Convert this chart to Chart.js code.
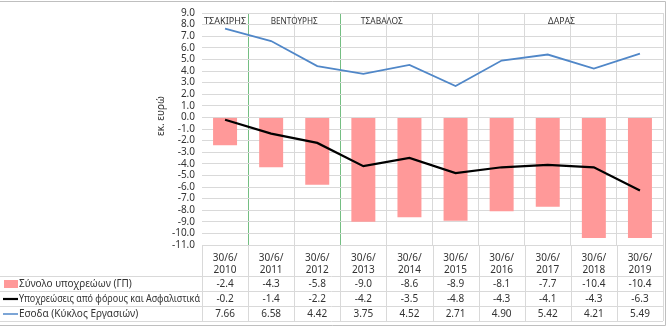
<!DOCTYPE html>
<html>
<head>
<meta charset="utf-8">
<script src="https://cdn.jsdelivr.net/npm/chart.js@4/dist/chart.umd.min.js"></script>
<style>
  html, body { margin: 0; padding: 0; background: #fff; }
  #wrap { width: 667px; height: 328px; }
</style>
</head>
<body>
<div id="wrap"><canvas id="chart" width="667" height="328"></canvas></div>
<script>
// data (Excel chart with data table)
const years = ['2010', '2011', '2012', '2013', '2014', '2015', '2016', '2017', '2018', '2019'];
const datePrefix = '30/6/';
const totalLiabilities = [-2.4, -4.3, -5.8, -9.0, -8.6, -8.9, -8.1, -7.7, -10.4, -10.4];
const taxLiabilities = [-0.2, -1.4, -2.2, -4.2, -3.5, -4.8, -4.3, -4.1, -4.3, -6.3];
const revenue = [7.66, 6.58, 4.42, 3.75, 4.52, 2.71, 4.90, 5.42, 4.21, 5.49];
const seriesNames = ['Σύνολο υποχρεώων (ΓΠ)', 'Υποχρεώσεις από φόρους και Ασφαλιστικά', 'Εσοδα (Κύκλος Εργασιών)'];
const yMin = -11, yMax = 9, yStep = 1;
const yTitle = 'εκ. ευρώ';
const managers = ['ΤΣΑΚΙΡΗΣ', 'ΒΕΝΤΟΥΡΗΣ', 'ΤΣΑΒΑΛΟΣ', 'ΔΑΡΑΣ'];

const PINK = '#FF9999';
const BLUE = '#5087C8';
const GRID = '#D9D9D9';
const GREEN = '#74BE82';
const TEXT = '#333333';
const FONT = "'Noto Sans', sans-serif";

// text squeezed horizontally when wider than maxW (Calibri is narrower than anything installed)
function fitText(ctx, str, x, y, maxW) {
    const w = ctx.measureText(str).width;
    if (w <= maxW) { ctx.fillText(str, x, y); return; }
    ctx.save();
    ctx.translate(x, y);
    ctx.scale(maxW / w, 1);
    ctx.fillText(str, 0, 0);
    ctx.restore();
}

// draws the person labels, axis title and the data table under the plot
const tablePlugin = {
    id: 'dataTable',
    afterDraw(chart) {
        const { ctx, chartArea: a, scales: { x } } = chart;
        const n = years.length;
        const colW = (a.right - a.left) / n;
        const headTop = a.bottom, headBottom = a.bottom + 31, rowH = 15;
        const rows = [totalLiabilities, taxLiabilities, revenue];
        const digits = [1, 1, 2];

        ctx.save();
        ctx.lineWidth = 1;
        ctx.strokeStyle = GRID;

        // horizontal table lines
        ctx.beginPath();
        ctx.moveTo(a.left, headTop + 0.5); ctx.lineTo(a.right, headTop + 0.5);
        for (let r = 0; r <= 3; r++) {
            const y = Math.round(headBottom + r * rowH) + 0.5;
            ctx.moveTo(0, y); ctx.lineTo(a.right, y);
        }
        // vertical table lines
        for (let i = 0; i <= n; i++) {
            const xx = Math.round(a.left + i * colW) + 0.5;
            ctx.moveTo(xx, headTop); ctx.lineTo(xx, headBottom + 3 * rowH);
        }
        ctx.stroke();

        // header: dates
        ctx.fillStyle = TEXT;
        ctx.font = '10px ' + FONT;
        ctx.textAlign = 'center';
        ctx.textBaseline = 'middle';
        years.forEach((yr, i) => {
            const cx = x.getPixelForValue(i);
            ctx.fillText(datePrefix, cx, headTop + 13);
            ctx.fillText(yr, cx, headTop + 25);
        });

        // values
        rows.forEach((vals, r) => {
            const cy = headBottom + r * rowH + rowH / 2 + 0.5;
            vals.forEach((v, i) => ctx.fillText(v.toFixed(digits[r]), x.getPixelForValue(i), cy));
        });

        // legend keys + names
        ctx.textAlign = 'left';
        seriesNames.forEach((name, r) => {
            const cy = headBottom + r * rowH + rowH / 2 + 0.5;
            if (r === 0) {
                ctx.fillStyle = PINK;
                ctx.fillRect(4, cy - 4, 14, 8);
            } else {
                ctx.strokeStyle = r === 1 ? '#000' : BLUE;
                ctx.lineWidth = r === 1 ? 2.2 : 1.5;
                ctx.beginPath(); ctx.moveTo(3, cy); ctx.lineTo(18, cy); ctx.stroke();
            }
            ctx.fillStyle = TEXT;
            fitText(ctx, name, 19, cy, 181);
        });

        // manager labels at top of plot
        ctx.textAlign = 'center';
        ctx.font = '9.5px ' + FONT;
        const anchors = [0, 1.5, 3.4, 7.3];
        managers.forEach((m, i) => {
            fitText(ctx, m, a.left + (anchors[i] + 0.5) * colW, a.top + 8, 42 + (m.length - 8) * 5);
        });

        // y axis title
        ctx.font = '10px ' + FONT;
        ctx.save();
        ctx.translate(161, 116);
        ctx.rotate(-Math.PI / 2);
        ctx.fillText(yTitle, 0, 0);
        ctx.restore();

        // outer frame
        ctx.strokeStyle = '#BFBFBF';
        ctx.lineWidth = 1;
        ctx.beginPath();
        ctx.moveTo(0, 1.5); ctx.lineTo(665.5, 1.5); ctx.lineTo(665.5, 325.5); ctx.lineTo(0, 325.5);
        ctx.stroke();
        ctx.restore();
    }
};

new Chart(document.getElementById('chart'), {
    type: 'bar',
    data: {
        labels: years.map(y => datePrefix + y),
        datasets: [
            {
                label: seriesNames[0],
                data: totalLiabilities,
                backgroundColor: PINK,
                barPercentage: 0.52,
                categoryPercentage: 1.0,
                order: 3
            },
            {
                type: 'line',
                label: seriesNames[1],
                data: taxLiabilities,
                borderColor: '#000',
                borderWidth: 2.2,
                pointRadius: 0,
                tension: 0,
                order: 2
            },
            {
                type: 'line',
                label: seriesNames[2],
                data: revenue,
                borderColor: BLUE,
                borderWidth: 1.8,
                pointRadius: 0,
                tension: 0,
                order: 1
            }
        ]
    },
    options: {
        responsive: false,
        animation: false,
        layout: { padding: { top: 11, right: 4, bottom: 83, left: 0 } },
        plugins: { legend: { display: false }, tooltip: { enabled: false } },
        scales: {
            x: {
                offset: true,
                ticks: { display: false },
                border: { display: false },
                grid: {
                    offset: true,
                    drawTicks: false,
                    color: (c) => (c.index === 1 || c.index === 3) ? GREEN : (c.index === 0 ? 'rgba(0,0,0,0)' : GRID)
                },
                afterFit: (s) => { s.height = 0; }
            },
            y: {
                min: yMin,
                max: yMax,
                border: { display: false },
                grid: { color: GRID, drawTicks: false },
                ticks: {
                    stepSize: yStep,
                    autoSkip: false,
                    padding: 7,
                    color: TEXT,
                    font: { family: FONT, size: 10 },
                    callback: (v) => v.toFixed(1)
                },
                afterFit: (s) => { s.width = 202; }
            }
        }
    },
    plugins: [tablePlugin]
});
</script>
</body>
</html>
